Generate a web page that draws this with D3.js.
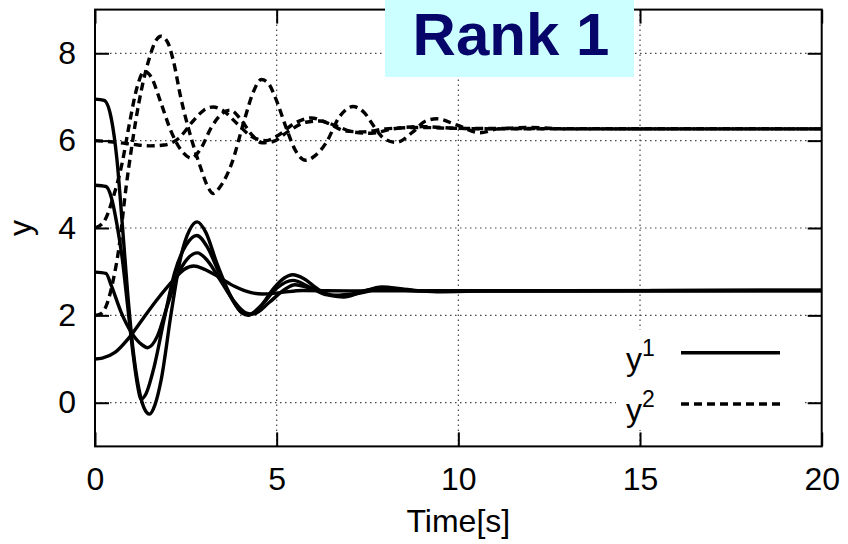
<!DOCTYPE html>
<html>
<head>
<meta charset="utf-8">
<script src="https://cdn.jsdelivr.net/npm/d3@7"></script>
<style>
  html, body { margin: 0; padding: 0; background: #fff; }
  svg { display: block; font-family: "Liberation Sans", Arial, sans-serif; }
</style>
</head>
<body>
<svg id="chart" width="848" height="544"></svg>
<script>
// Time responses of the two state components (y1 solid, y2 dashed), [time, value] samples
const y1AgentA = [[0,6.95],[0.25,6.92],[0.45,6.5],[0.6,5.6],[0.75,4.1],[0.9,2.5],[1.05,1.2],[1.2,0.35],[1.35,-0.12],[1.5,-0.26],[1.65,-0.05],[1.82,0.52],[2.1,2.07],[2.37,3.37],[2.6,3.95],[2.81,4.14],[3.05,3.9],[3.35,3.2],[3.7,2.5],[4.0,2.1],[4.22,2.02],[4.55,2.2],[4.9,2.6],[5.2,2.85],[5.44,2.93],[5.75,2.84],[6.1,2.62],[6.5,2.45],[6.85,2.42],[7.3,2.52],[7.9,2.65],[8.5,2.6],[9.4,2.54],[11,2.56],[20,2.57]];
const y1AgentB = [[0,4.98],[0.3,4.95],[0.45,4.7],[0.6,4.1],[0.75,3.3],[0.9,2.2],[1.05,1.1],[1.17,0.4],[1.27,0.08],[1.4,0.2],[1.63,0.83],[1.9,1.9],[2.2,3.0],[2.5,3.6],[2.8,3.83],[3.1,3.55],[3.4,3.0],[3.75,2.4],[4.05,2.05],[4.22,2.0],[4.6,2.25],[5.0,2.62],[5.45,2.8],[5.9,2.65],[6.4,2.47],[6.85,2.45],[7.5,2.58],[8.0,2.62],[9.0,2.56],[11,2.56],[20,2.57]];
const y1AgentC = [[0,2.99],[0.3,2.96],[0.45,2.68],[0.72,2.07],[1.0,1.61],[1.27,1.34],[1.45,1.26],[1.72,1.53],[1.99,2.22],[2.27,2.91],[2.55,3.3],[2.82,3.43],[3.1,3.25],[3.45,2.8],[3.8,2.35],[4.15,2.06],[4.35,2.03],[4.8,2.3],[5.2,2.58],[5.5,2.7],[6.0,2.6],[6.6,2.46],[7.2,2.5],[7.9,2.6],[9.0,2.56],[11,2.56],[20,2.57]];
const y1AgentD = [[0,1.0],[0.2,1.02],[0.55,1.15],[0.9,1.45],[1.3,1.9],[1.7,2.35],[2.15,2.8],[2.45,3.05],[2.72,3.13],[3.0,3.06],[3.4,2.88],[3.85,2.66],[4.3,2.52],[4.6,2.49],[5.1,2.52],[5.7,2.57],[7.0,2.56],[20,2.57]];

const y2AgentA = [[0,2.0],[0.15,2.03],[0.3,2.2],[0.5,2.8],[0.66,3.55],[0.85,4.9],[1.0,5.8],[1.12,6.45],[1.3,7.25],[1.5,7.9],[1.65,8.25],[1.82,8.39],[2.0,8.25],[2.15,7.85],[2.37,6.95],[2.65,6.05],[2.92,5.35],[3.1,4.95],[3.25,4.79],[3.45,4.95],[3.75,5.45],[4.12,6.5],[4.35,7.1],[4.58,7.4],[4.78,7.3],[4.98,6.95],[5.26,6.3],[5.5,5.8],[5.8,5.55],[6.05,5.65],[6.36,5.95],[6.73,6.55],[7.1,6.78],[7.4,6.65],[7.7,6.3],[7.95,6.05],[8.3,5.96],[8.75,6.2],[9.1,6.45],[9.4,6.5],[9.95,6.36],[10.6,6.18],[11.1,6.27],[12,6.3],[13,6.27],[20,6.27]];
const y2AgentB = [[0,4.0],[0.25,4.15],[0.5,4.7],[0.75,5.5],[0.95,6.4],[1.15,7.2],[1.36,7.59],[1.55,7.45],[1.8,6.9],[2.1,6.2],[2.4,5.75],[2.65,5.6],[2.9,5.8],[3.2,6.3],[3.5,6.62],[3.72,6.7],[4.0,6.5],[4.3,6.15],[4.6,5.95],[4.9,5.98],[5.3,6.2],[5.8,6.42],[6.2,6.45],[6.6,6.35],[7.1,6.2],[7.6,6.17],[8.2,6.27],[9,6.32],[10,6.28],[11,6.27],[20,6.27]];
const y2AgentC = [[0,6.0],[0.5,5.97],[1.0,5.92],[1.5,5.88],[1.9,5.9],[2.3,6.05],[2.7,6.45],[3.0,6.7],[3.25,6.77],[3.5,6.7],[3.9,6.4],[4.3,6.1],[4.7,6.0],[5.0,6.1],[5.5,6.4],[5.95,6.52],[6.4,6.4],[6.9,6.22],[7.4,6.2],[8,6.27],[9,6.3],[10,6.28],[20,6.27]];

const xTicks = [0, 5, 10, 15, 20];
const yTicks = [0, 2, 4, 6, 8];
const legendLabels = ["1", "2"];
const titleText = "Rank 1";

const svg = d3.select("#chart");
const plotLeft = 95, plotRight = 821.7, plotTop = 9.6, plotBottom = 446.4;

const x = d3.scaleLinear().domain([0, 20]).range([plotLeft, plotRight]);
const y = d3.scaleLinear().domain([-1, 9]).range([plotBottom, plotTop]);

// dotted grid
const grid = svg.append("g").attr("stroke", "#444").attr("stroke-width", 1.2)
  .attr("stroke-dasharray", "1.5,3.5");
grid.selectAll("line.gx").data(xTicks.filter(t => t > 0 && t < 20)).join("line")
  .attr("x1", d => x(d)).attr("x2", d => x(d)).attr("y1", plotTop).attr("y2", plotBottom);
grid.selectAll("line.gy").data(yTicks).join("line")
  .attr("y1", d => y(d)).attr("y2", d => y(d)).attr("x1", plotLeft).attr("x2", plotRight);

// axes with inward ticks on all four sides
const tickLen = 14;
const fontSize = 32;
const axB = svg.append("g").attr("transform", `translate(0,${plotBottom})`)
  .call(d3.axisBottom(x).tickValues(xTicks).tickSizeInner(-tickLen).tickSizeOuter(0).tickPadding(21));
const axL = svg.append("g").attr("transform", `translate(${plotLeft},0)`)
  .call(d3.axisLeft(y).tickValues(yTicks).tickSizeInner(-tickLen).tickSizeOuter(0).tickPadding(19));
const axT = svg.append("g").attr("transform", `translate(0,${plotTop})`)
  .call(d3.axisTop(x).tickValues(xTicks).tickSizeInner(-tickLen).tickSizeOuter(0).tickFormat(""));
const axR = svg.append("g").attr("transform", `translate(${plotRight},0)`)
  .call(d3.axisRight(y).tickValues(yTicks).tickSizeInner(-tickLen).tickSizeOuter(0).tickFormat(""));
[axB, axL, axT, axR].forEach(a => {
  a.select(".domain").remove();
  a.selectAll(".tick line").attr("stroke", "#000").attr("stroke-width", 2);
  a.selectAll(".tick text").attr("font-size", fontSize).attr("fill", "#000")
    .attr("font-family", "Liberation Sans, Arial, sans-serif");
});

// curves
const line = d3.line().x(d => x(d[0])).y(d => y(d[1])).curve(d3.curveMonotoneX);
const curves = svg.append("g").attr("fill", "none").attr("stroke", "#000")
  .attr("stroke-width", 3.4).attr("stroke-linejoin", "round");
[y1AgentA, y1AgentB, y1AgentC, y1AgentD].forEach(s => curves.append("path").attr("d", line(s)));
[y2AgentA, y2AgentB, y2AgentC].forEach(s => curves.append("path").attr("d", line(s))
  .attr("stroke-dasharray", "8,5"));

// frame
svg.append("rect").attr("x", plotLeft).attr("y", plotTop)
  .attr("width", plotRight - plotLeft).attr("height", plotBottom - plotTop)
  .attr("fill", "none").attr("stroke", "#000").attr("stroke-width", 2);

// legend
const leg = svg.append("g");
leg.append("rect").attr("x", 616).attr("y", 330).attr("width", 186).attr("height", 100).attr("fill", "#fff");
legendLabels.forEach((lab, i) => {
  const yy = 352.7 + i * 51.3;
  const t = leg.append("text").attr("x", 626).attr("y", yy + 17).attr("font-size", fontSize).attr("fill", "#000");
  t.append("tspan").text("y");
  t.append("tspan").attr("dy", -14).attr("font-size", 23).text(lab);
  leg.append("line").attr("x1", 681).attr("x2", 780).attr("y1", yy).attr("y2", yy)
    .attr("stroke", "#000").attr("stroke-width", 3.4)
    .attr("stroke-dasharray", i === 1 ? "8,5" : null);
});

// axis titles
svg.append("text").attr("x", x(10)).attr("y", 532).attr("text-anchor", "middle")
  .attr("font-size", fontSize).text("Time[s]");
svg.append("text").attr("transform", `translate(31,${y(4)}) rotate(-90)`).attr("text-anchor", "middle")
  .attr("font-size", fontSize).text("y");

// title badge
svg.append("rect").attr("x", 385).attr("y", 0).attr("width", 249).attr("height", 77).attr("fill", "#ccffff");
svg.append("text").attr("x", 511).attr("y", 55).attr("text-anchor", "middle")
  .attr("font-size", 60).attr("font-weight", "bold").attr("fill", "#06066a").text(titleText);
</script>
</body>
</html>
